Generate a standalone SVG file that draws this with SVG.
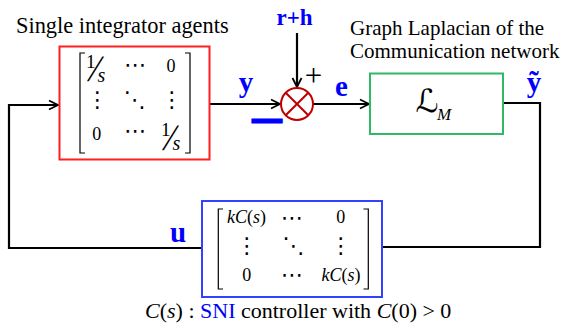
<svg xmlns="http://www.w3.org/2000/svg" width="563" height="331" viewBox="0 0 563 331" font-family="'Liberation Serif','Times New Roman',serif">
<defs>
<marker id="arr" markerUnits="userSpaceOnUse" markerWidth="12" markerHeight="12" refX="10" refY="5" orient="auto" viewBox="0 0 12 10">
<path d="M1,0.5 L10,5 L1,9.5" fill="none" stroke="#000" stroke-width="1.8"/>
</marker>
</defs>
<style>
text{font-family:"Liberation Serif","Times New Roman",serif;fill:#000}
.lbl{font-size:21px}
.sig{font-size:29px;font-weight:bold;fill:#0000ff}
.m{font-size:18px;text-anchor:middle}
.it{font-style:italic}
.dots{font-family:"DejaVu Serif","DejaVu Sans",serif;font-size:22px;text-anchor:middle}
.br{fill:none;stroke:#000;stroke-width:1.2}
.wire{fill:none;stroke:#000;stroke-width:2.2}
</style>
<rect width="563" height="331" fill="#fff"/>

<g id="connectors">
<path class="wire" d="M202,248 L9,248 L9,105 L58,105" marker-end="url(#arr)"/>
<path class="wire" d="M209,104 L280,104" marker-end="url(#arr)"/>
<path class="wire" d="M297,33 L297,87" marker-end="url(#arr)"/>
<path class="wire" d="M313,104 L369,104" marker-end="url(#arr)"/>
<path class="wire" d="M503,103 L540,103 L540,247 L382,247"/>
</g>

<g id="agents">
<text x="16" y="33" style="font-size:22.4px">Single integrator agents</text>
<rect x="59.5" y="46.5" width="150" height="113" fill="#fff" stroke="#ff1f1f" stroke-width="2"/>
<path class="br" d="M85,53 L80,53 L80,153 L85,153"/>
<path class="br" d="M185,53 L190,53 L190,153 L185,153"/>
<text x="86" y="68" style="font-size:19px">1</text>
<text transform="translate(87,81) skewX(-15.5)" style="font-size:37px">/</text>
<text x="97.5" y="81.5" class="it" style="font-size:20px">s</text>
<text x="135" y="71.5" class="dots">⋯</text>
<text x="171" y="72" class="m">0</text>
<text x="97.3" y="106.5" class="dots">⋮</text>
<text x="134.5" y="106.5" class="dots">⋱</text>
<text x="171.7" y="106.5" class="dots">⋮</text>
<text x="96.7" y="140" class="m">0</text>
<text x="135" y="138" class="dots">⋯</text>
<text x="161" y="136" style="font-size:19px">1</text>
<text transform="translate(162,149.5) skewX(-15.5)" style="font-size:37px">/</text>
<text x="172.5" y="150" class="it" style="font-size:20px">s</text>
</g>

<g id="sum">
<circle cx="297" cy="104" r="16" fill="#fff" stroke="#c00000" stroke-width="2"/>
<path d="M285.7,92.7 L308.3,115.3 M308.3,92.7 L285.7,115.3" stroke="#c00000" stroke-width="2"/>
<text x="294.5" y="25" text-anchor="middle" style="font-size:23px;font-weight:bold;fill:#0000ff">r+h</text>
<text x="313.5" y="86" text-anchor="middle" style="font-size:31px">+</text>
<text x="267" y="127" text-anchor="middle" style="font-size:28px;font-weight:bold;fill:#0000ff;stroke:#0000ff;stroke-width:3">—</text>
</g>

<g id="laplacian">
<text x="350" y="35" class="lbl">Graph Laplacian of the</text>
<text x="350" y="58" class="lbl">Communication network</text>
<rect x="370" y="73.5" width="133" height="60.5" fill="#fff" stroke="#2fb865" stroke-width="2"/>
<text x="427" y="112" text-anchor="middle" style="font-family:'DejaVu Serif','DejaVu Sans',serif;font-size:32px;font-style:italic">ℒ</text>
<text x="437" y="120" class="it" style="font-size:17px">M</text>
</g>

<g id="controller">
<rect x="202" y="201" width="180" height="96" fill="#fff" stroke="#3340ff" stroke-width="2"/>
<path class="br" d="M223,209 L218.3,209 L218.3,289 L223,289"/>
<path class="br" d="M363.5,209 L368.3,209 L368.3,289 L363.5,289"/>
<text x="246.5" y="223" class="m"><tspan class="it">kC</tspan>(<tspan class="it">s</tspan>)</text>
<text x="291.7" y="224.5" class="dots">⋯</text>
<text x="340.7" y="223" class="m">0</text>
<text x="246.7" y="252.5" class="dots">⋮</text>
<text x="293.3" y="252.5" class="dots">⋱</text>
<text x="340.7" y="252.5" class="dots">⋮</text>
<text x="246.7" y="281" class="m">0</text>
<text x="291.7" y="281.5" class="dots">⋯</text>
<text x="341" y="281" class="m"><tspan class="it">kC</tspan>(<tspan class="it">s</tspan>)</text>
<text x="145" y="318" style="font-size:22px"><tspan class="it">C</tspan>(<tspan class="it">s</tspan>) : <tspan style="fill:#0000ff">SNI</tspan> controller with <tspan class="it">C</tspan>(0) &gt; 0</text>
</g>

<g id="signals">
<text x="246" y="92" text-anchor="middle" class="sig">y</text>
<text x="341.5" y="96" text-anchor="middle" class="sig">e</text>
<text x="534" y="92" text-anchor="middle" class="sig">ỹ</text>
<text x="178" y="242" text-anchor="middle" class="sig">u</text>
</g>
</svg>
